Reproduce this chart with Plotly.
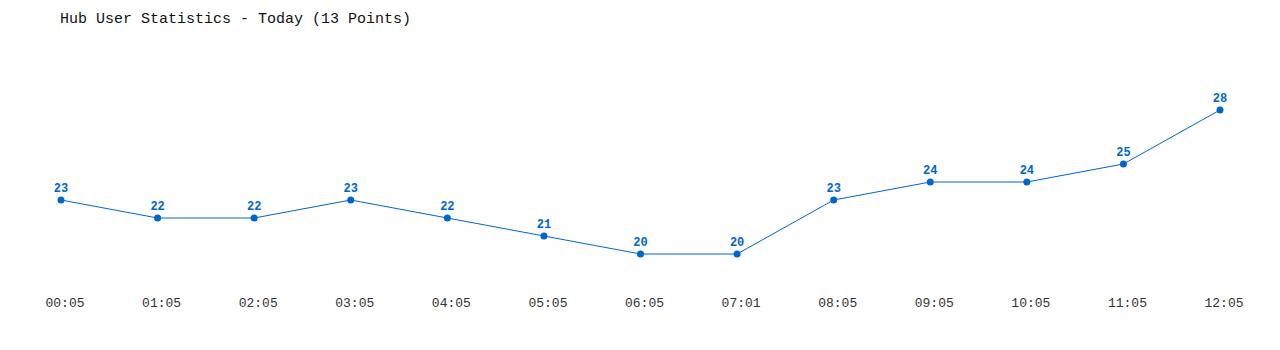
import plotly.graph_objects as go

times = ["00:05", "01:05", "02:05", "03:05", "04:05", "05:05", "06:05",
         "07:01", "08:05", "09:05", "10:05", "11:05", "12:05"]
users = [23, 22, 22, 23, 22, 21, 20, 20, 23, 24, 24, 25, 28]

x_idx = list(range(len(times)))

fig = go.Figure()
fig.add_trace(go.Scatter(
    x=x_idx, y=users,
    mode="lines+markers+text",
    line=dict(color="#0066CC", width=1),
    marker=dict(color="#0066CC", size=7),
    text=[str(v) for v in users],
    textposition="top center",
    textfont=dict(family="Liberation Mono", size=12, color="#0066CC", weight="bold"),
    cliponaxis=False,
    hoverinfo="x+y",
))

fig.update_layout(
    width=1280, height=350,
    margin=dict(l=61, r=60, t=50, b=60),
    paper_bgcolor="white", plot_bgcolor="white",
    showlegend=False,
    title=dict(text="Hub User Statistics - Today (13 Points)",
               x=60/1280, xanchor="left", y=1-18/350, yanchor="middle",
               font=dict(family="Liberation Mono", size=15, color="#111")),
    xaxis=dict(range=[0, 12], tickmode="array", tickvals=x_idx, ticktext=times,
               showgrid=False, zeroline=False, showline=False, ticks="",
               ticklabelshift=4, ticklabelstandoff=3,
               tickfont=dict(family="Liberation Mono", size=13, color="#333")),
    yaxis=dict(range=[18, 31.333], showgrid=False, zeroline=False,
               showline=False, showticklabels=False, ticks=""),
)

fig.write_html("out.html")
